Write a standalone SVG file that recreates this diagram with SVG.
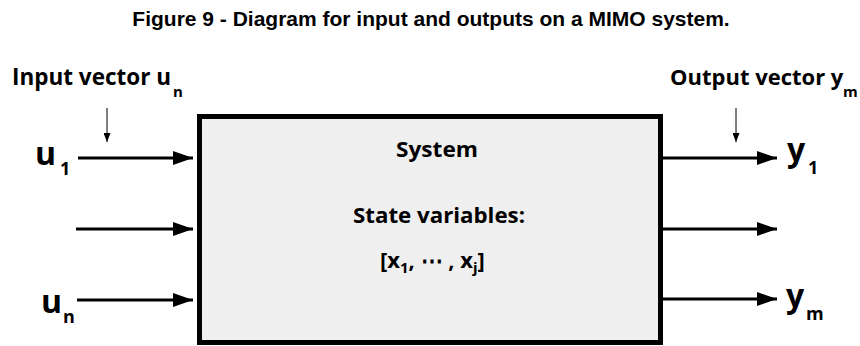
<svg xmlns="http://www.w3.org/2000/svg" width="860" height="346" viewBox="0 0 860 346">
<style>
.t{font-family:"Open Sans","Liberation Sans",sans-serif;font-weight:700;fill:#000}
.title{font-family:"Liberation Sans",Arial,sans-serif;font-weight:bold;font-size:21px;fill:#000}
.big{font-size:32px}
.sub{font-size:18px}
.lsub{font-size:15px}
.in{font-size:22px}
.arr{stroke:#000;stroke-width:3;fill:none}
.thin{stroke:#000;stroke-width:1;fill:none}
</style>
<defs>
<marker id="ah" markerWidth="20" markerHeight="14" refX="20" refY="7" orient="auto" markerUnits="userSpaceOnUse">
<path d="M0,0 L20,7 L0,14 Z" fill="#000"/>
</marker>
<marker id="sh" markerWidth="9" markerHeight="7" refX="9" refY="3.5" orient="auto" markerUnits="userSpaceOnUse">
<path d="M0,0 L9,3.5 L0,7 Z" fill="#000"/>
</marker>
</defs>
<rect width="860" height="346" fill="#fff"/>
<text class="title" x="431" y="26" text-anchor="middle">Figure 9 - Diagram for input and outputs on a MIMO system.</text>

<g id="system">
<rect x="199.5" y="116.5" width="461" height="226" fill="#efefef" stroke="#000" stroke-width="5"/>
<text class="t in" x="437" y="157" text-anchor="middle" textLength="82" lengthAdjust="spacingAndGlyphs">System</text>
<text class="t in" x="439" y="223" text-anchor="middle" textLength="172" lengthAdjust="spacingAndGlyphs">State variables:</text>
<text class="t in" x="380" y="268">[x<tspan class="lsub" dy="5">1</tspan><tspan dy="-5">, ⋯ , x</tspan><tspan class="lsub" dy="5">j</tspan><tspan dy="-5">]</tspan></text>
</g>

<g id="input-label">
<text class="t" font-size="22.5" x="12" y="85">Input vector u<tspan class="lsub" x="173" dy="12">n</tspan></text>
</g>
<g id="output-label">
<text class="t" font-size="22" x="670" y="85">Output vector y<tspan class="lsub" x="843" dy="12">m</tspan></text>
</g>
<g id="u1"><text class="t big" x="35" y="165">u<tspan class="sub" x="60" dy="10">1</tspan></text></g>
<g id="un"><text class="t big" x="41" y="313">u<tspan class="sub" x="63" dy="10">n</tspan></text></g>
<g id="y1"><text class="t big" x="787" y="161">y<tspan class="sub" x="808" dy="13">1</tspan></text></g>
<g id="ym"><text class="t big" x="786" y="307">y<tspan class="sub" x="806" dy="13">m</tspan></text></g>

<g id="connectors">
<line class="arr" x1="78" y1="158" x2="193" y2="158" marker-end="url(#ah)"/>
<line class="arr" x1="76" y1="229" x2="193" y2="229" marker-end="url(#ah)"/>
<line class="arr" x1="77" y1="300" x2="193" y2="300" marker-end="url(#ah)"/>
<line class="arr" x1="662" y1="158" x2="777" y2="158" marker-end="url(#ah)"/>
<line class="arr" x1="662" y1="229" x2="777" y2="229" marker-end="url(#ah)"/>
<line class="arr" x1="662" y1="299" x2="777" y2="299" marker-end="url(#ah)"/>
<line class="thin" x1="107" y1="108" x2="107" y2="142" marker-end="url(#sh)"/>
<line class="thin" x1="736" y1="108" x2="736" y2="142" marker-end="url(#sh)"/>
</g>
</svg>
